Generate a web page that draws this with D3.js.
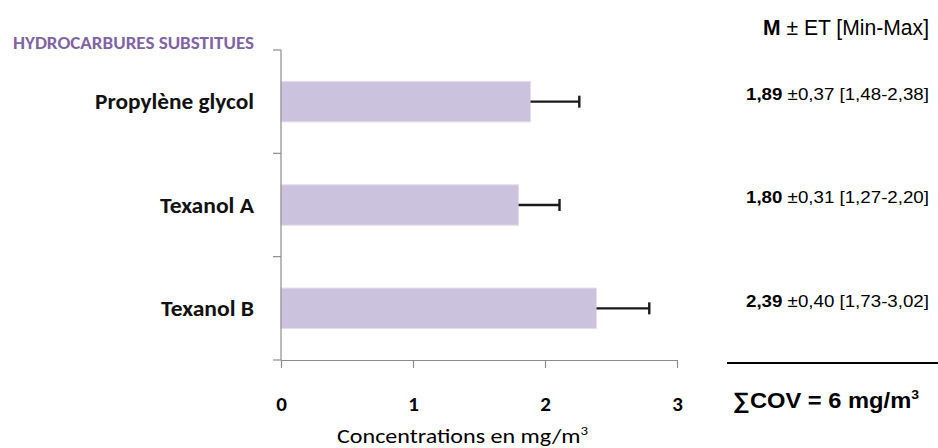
<!DOCTYPE html>
<html><head><meta charset="utf-8">
<script src="https://cdn.jsdelivr.net/npm/d3@7"></script>
<style>body{margin:0;background:#fff}svg{display:block}</style>
</head><body>
<svg id="c" width="938" height="448"></svg>
<script>
const categories = ["Propylène glycol", "Texanol A", "Texanol B"];
const means = [1.89, 1.80, 2.39];
const sds = [0.37, 0.31, 0.40];
const mins = ["1,48", "1,27", "1,73"];
const maxs = ["2,38", "2,20", "3,02"];
const meanLabels = ["1,89", "1,80", "2,39"];
const sdLabels = ["0,37", "0,31", "0,40"];
const xTicks = [0, 1, 2, 3];
const groupTitle = "HYDROCARBURES SUBSTITUES";
const xTitle = "Concentrations en mg/m";
const totalLabel = "∑COV = 6 mg/m";

const svg = d3.select("#c");
const calibri = "Carlito, Lato, 'Open Sans', sans-serif";
const arial = "'Liberation Sans', Arial, sans-serif";

const x = d3.scaleLinear().domain([0, 3]).range([281, 677]);
const y = d3.scaleBand().domain(categories).range([50, 360]).paddingInner(0.608).paddingOuter(0.304);

function fit(sel, w) { sel.attr("textLength", w).attr("lengthAdjust", "spacingAndGlyphs"); }

// bars
svg.append("g").selectAll("rect").data(categories).join("rect")
  .attr("x", x(0)).attr("y", d => y(d))
  .attr("width", (d, i) => x(means[i]) - x(0))
  .attr("height", y.bandwidth())
  .attr("fill", "#CBC3DD").attr("stroke", "#E2DEEC").attr("stroke-width", 1);

// error bars
const eg = svg.append("g").attr("stroke", "#1a1a1a").attr("stroke-width", 2.4);
categories.forEach((c, i) => {
  const cy = y(c) + y.bandwidth() / 2;
  eg.append("line").attr("x1", x(means[i])).attr("x2", x(means[i] + sds[i])).attr("y1", cy).attr("y2", cy);
  eg.append("line").attr("x1", x(means[i] + sds[i])).attr("x2", x(means[i] + sds[i])).attr("y1", cy - 6).attr("y2", cy + 6);
});

// y axis line + boundary ticks
const axisColor = "#8c8c8c";
svg.append("line").attr("x1", x(0)).attr("x2", x(0)).attr("y1", y.range()[0]).attr("y2", y.range()[1])
  .attr("stroke", axisColor).attr("stroke-width", 1.2);
const bounds = d3.range(categories.length + 1).map(i => y.range()[0] + i * y.step());
svg.append("g").selectAll("line").data(bounds).join("line")
  .attr("x1", x(0) - 8).attr("x2", x(0)).attr("y1", d => d).attr("y2", d => d)
  .attr("stroke", axisColor).attr("stroke-width", 1.2);

// x axis
const xa = svg.append("g").attr("transform", `translate(0,${y.range()[1]})`)
  .call(d3.axisBottom(x).tickValues(xTicks).tickSize(8).tickSizeOuter(0).tickFormat(d3.format("d")));
xa.select(".domain").attr("stroke", axisColor).attr("stroke-width", 1.2);
xa.selectAll(".tick line").attr("stroke", axisColor).attr("stroke-width", 1.2);
xa.selectAll(".tick text").attr("font-family", calibri).attr("font-weight", 700)
  .attr("font-size", 21).attr("fill", "#000").attr("dy", 0).attr("y", 51);

// category labels
const catW = [159, 94, 93];
svg.append("g").selectAll("text").data(categories).join("text")
  .attr("x", 254).attr("y", d => y(d) + y.bandwidth() / 2 + 7.5)
  .attr("text-anchor", "end").attr("font-family", calibri).attr("font-weight", 700)
  .attr("font-size", 22).attr("fill", "#111").text(d => d)
  .each(function(d, i) { fit(d3.select(this), catW[i]); });

// group title
fit(svg.append("text").attr("x", 13).attr("y", 49).attr("font-family", calibri).attr("font-weight", 700)
  .attr("font-size", 17.5).attr("fill", "#8064A2").text(groupTitle), 241);

// x title
const xt = svg.append("text").attr("x", 337).attr("y", 443)
  .attr("font-family", calibri).attr("font-size", 21).attr("fill", "#000");
xt.append("tspan").text(xTitle);
xt.append("tspan").attr("font-size", 13).attr("dy", -8).text("3");
fit(xt, 251);

// right side header
const hd = svg.append("text").attr("x", 763).attr("y", 35)
  .attr("font-family", arial).attr("font-size", 22).attr("fill", "#000");
hd.append("tspan").attr("font-weight", 700).text("M");
hd.append("tspan").text(" ± ET [Min-Max]");
fit(hd, 166);

// stats lines
svg.append("g").selectAll("text").data(categories).join("text")
  .attr("x", 746).attr("y", d => y(d) + y.bandwidth() / 2 - 1.7)
  .attr("font-family", arial).attr("font-size", 17).attr("fill", "#000")
  .each(function(d, i) {
    const t = d3.select(this);
    t.append("tspan").attr("font-weight", 700).text(meanLabels[i]);
    t.append("tspan").text(` ±${sdLabels[i]} [${mins[i]}-${maxs[i]}]`);
    fit(t, 183);
  });

// separator line
svg.append("line").attr("x1", 727).attr("x2", 938).attr("y1", 363).attr("y2", 363)
  .attr("stroke", "#000").attr("stroke-width", 2);

// total
const tt = svg.append("text").attr("x", 733).attr("y", 408)
  .attr("font-family", arial).attr("font-weight", 700).attr("font-size", 22).attr("fill", "#000");
tt.append("tspan").text(totalLabel);
tt.append("tspan").attr("font-size", 13).attr("dy", -9).text("3");
fit(tt, 186);
</script>
</body></html>
